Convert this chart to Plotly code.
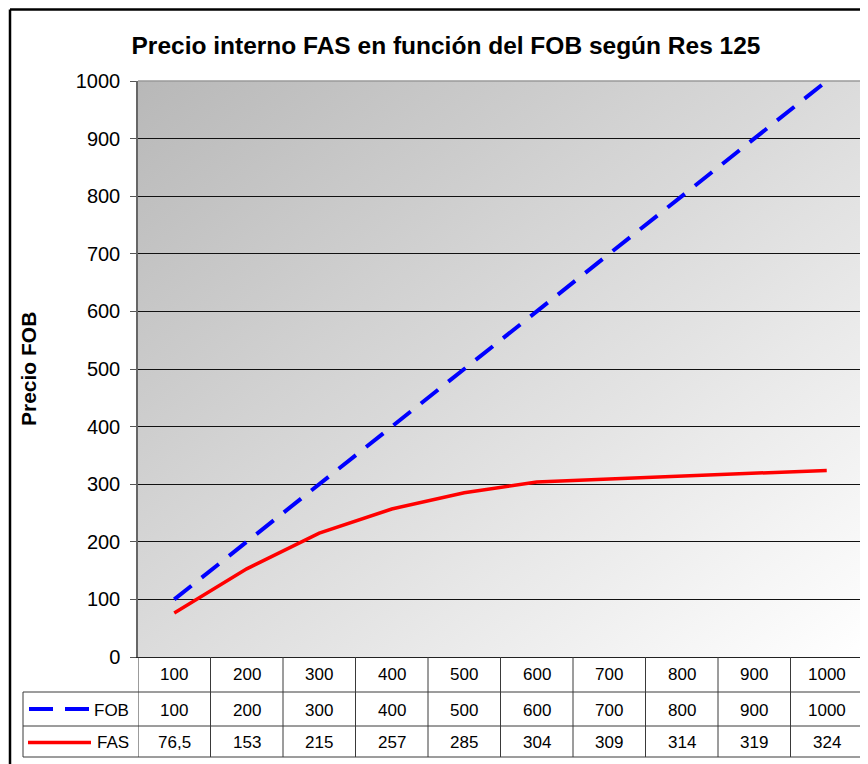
import plotly.graph_objects as go
import base64

# ---- data ----
categories = ["100", "200", "300", "400", "500", "600", "700", "800", "900", "1000"]
fob_values = [100, 200, 300, 400, 500, 600, 700, 800, 900, 1000]
fas_values = [76.5, 153, 215, 257, 285, 304, 309, 314, 319, 324]
series_names = ["FOB", "FAS"]
title_text = "Precio interno FAS en función del FOB según Res 125"
y_title = "Precio FOB"
y_ticks = [0, 100, 200, 300, 400, 500, 600, 700, 800, 900, 1000]

# ---- geometry helpers (layout only; page pixel coords, page has 8px body margin) ----
OFF = 8
W, H = 868 - OFF, 764 - OFF
PL, PR, PT, PB = 138, 863, 81, 657          # plot box in page pixels
L, T = PL - OFF, PT - OFF
R = W - (PR - OFF)
B = H - (PB - OFF)
PW, PH = PR - PL, PB - PT
FONT = "Liberation Sans, Arial, sans-serif"


def px_x(px):
    return (px - PL) / PW


def px_y(py):
    return (PB - py) / PH


def fmt(v):
    return ("%g" % v).replace(".", ",")


fig = go.Figure()
fig.add_trace(go.Scatter(x=categories, y=fob_values, name=series_names[0], mode="lines",
                         line=dict(color="#0000ff", width=4, dash="22px,13px"),
                         showlegend=False))
fig.add_trace(go.Scatter(x=categories, y=fas_values, name=series_names[1], mode="lines",
                         line=dict(color="#ff0000", width=3.5),
                         showlegend=False))

svg = ("<svg xmlns='http://www.w3.org/2000/svg' width='100' height='100' viewBox='0 0 100 100' "
       "preserveAspectRatio='none'><defs><linearGradient id='g' x1='0' y1='0' x2='1' y2='1'>"
       "<stop offset='0' stop-color='#b8b8b8'/><stop offset='1' stop-color='#ffffff'/>"
       "</linearGradient></defs><rect width='100' height='100' fill='url(#g)'/></svg>")
src = "data:image/svg+xml;base64," + base64.b64encode(svg.encode()).decode()

shapes = []
annotations = []
line_col = "#3a3a3a"

row_cat = (657, 692)
row_fob = (692, 726)
row_fas = (726, 757)
for yy in (692, 726, 757):
    shapes.append(dict(type="line", xref="paper", yref="paper", x0=px_x(23), x1=1,
                       y0=px_y(yy), y1=px_y(yy), line=dict(color=line_col, width=1)))
for i in range(len(categories) + 1):
    shapes.append(dict(type="line", xref="x", yref="paper", x0=i - 0.5, x1=i - 0.5,
                       y0=0, y1=px_y(757), line=dict(color=line_col, width=1)))
shapes.append(dict(type="line", xref="paper", yref="paper", x0=px_x(23), x1=px_x(23),
                   y0=px_y(692), y1=px_y(757), line=dict(color=line_col, width=1)))
# plot borders (top/right)
shapes.append(dict(type="line", xref="paper", yref="paper", x0=0, x1=1, y0=1, y1=1,
                   line=dict(color="#9a9a9a", width=1.5)))
shapes.append(dict(type="line", xref="paper", yref="paper", x0=1, x1=1, y0=0, y1=1,
                   line=dict(color="#9a9a9a", width=1.5)))
# outer frame (left/top)
FRAME_TOP = 9.5
shapes.append(dict(type="line", xref="paper", yref="paper", x0=px_x(10), x1=px_x(10),
                   y0=px_y(FRAME_TOP), y1=px_y(780), line=dict(color="black", width=2.5)))
shapes.append(dict(type="line", xref="paper", yref="paper", x0=px_x(10), x1=px_x(880),
                   y0=px_y(FRAME_TOP), y1=px_y(FRAME_TOP), line=dict(color="black", width=2.5)))
# legend keys
ky_fob = (row_fob[0] + row_fob[1]) / 2
ky_fas = (row_fas[0] + row_fas[1]) / 2 + 1
shapes.append(dict(type="line", xref="paper", yref="paper", x0=px_x(29), x1=px_x(89),
                   y0=px_y(ky_fob), y1=px_y(ky_fob),
                   line=dict(color="#0000ff", width=4, dash="24px,12px")))
shapes.append(dict(type="line", xref="paper", yref="paper", x0=px_x(28), x1=px_x(91),
                   y0=px_y(ky_fas), y1=px_y(ky_fas),
                   line=dict(color="#ff0000", width=3.5)))

tfont = dict(family=FONT, size=17, color="black")
for name, vals, row in ((series_names[0], fob_values, row_fob), (series_names[1], fas_values, row_fas)):
    yc = px_y((row[0] + row[1]) / 2 + 1)
    annotations.append(dict(text=name, xref="paper", yref="paper", x=px_x(131), y=yc,
                            xanchor="right", yanchor="middle", showarrow=False, font=tfont))
    for i, v in enumerate(vals):
        annotations.append(dict(text=fmt(v), xref="x", yref="paper", x=i, y=yc,
                                xanchor="center", yanchor="middle", showarrow=False, font=tfont))
for i, c in enumerate(categories):
    annotations.append(dict(text=c, xref="x", yref="paper", x=i, y=px_y((row_cat[0] + row_cat[1]) / 2),
                            xanchor="center", yanchor="middle", showarrow=False, font=tfont))
annotations.append(dict(text="<b>" + y_title + "</b>", xref="paper", yref="paper", x=px_x(28), y=0.5,
                        textangle=-90, xanchor="center", yanchor="middle", showarrow=False,
                        font=dict(family=FONT, size=21, color="black")))

fig.update_layout(
    width=W, height=H,
    margin=dict(l=L, r=R, t=T, b=B),
    paper_bgcolor="white", plot_bgcolor="white",
    title=dict(text="<b>" + title_text + "</b>", x=(446 - OFF) / W, xanchor="center",
               y=1 - (45 - OFF) / H, yanchor="middle", font=dict(family=FONT, size=24.5, color="black")),
    images=[dict(source=src, xref="paper", yref="paper", x=0, y=1, sizex=1, sizey=1,
                 sizing="stretch", layer="below", xanchor="left", yanchor="top")],
    xaxis=dict(type="category", categoryorder="array", categoryarray=categories,
               range=[-0.5, len(categories) - 0.5], showticklabels=False, ticks="",
               showgrid=False, zeroline=False, showline=True, linecolor="#222", linewidth=1),
    yaxis=dict(range=[0, 1000], tickvals=y_ticks, ticks="outside", ticklen=6, tickcolor="#555",
               tickwidth=1, showgrid=True, gridcolor="#111", gridwidth=1, zeroline=False,
               showline=True, linecolor="#666", linewidth=1.5, ticklabelstandoff=6,
               tickfont=dict(family=FONT, size=20, color="black")),
    shapes=shapes, annotations=annotations,
)

fig.write_html("out.html")
